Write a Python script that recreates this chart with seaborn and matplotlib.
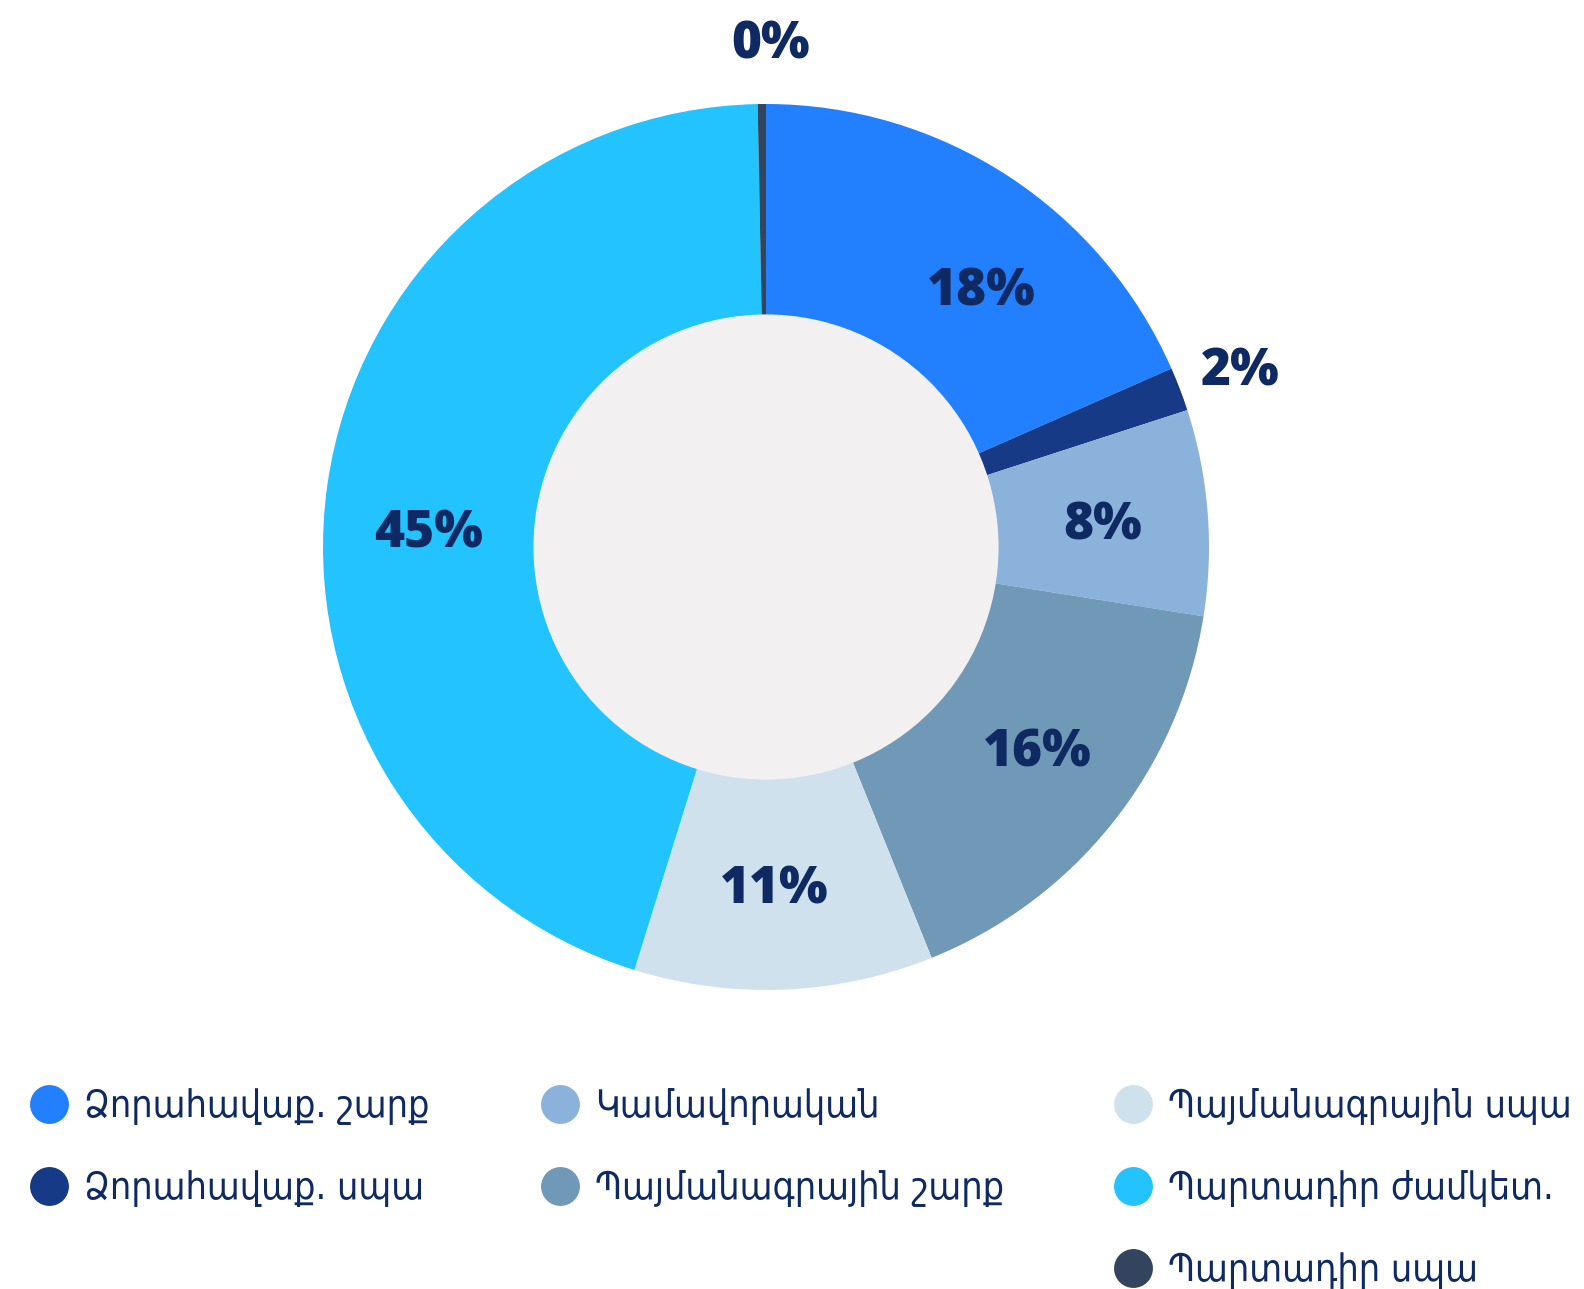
import matplotlib
matplotlib.use("Agg")
import matplotlib.pyplot as plt
import seaborn as sns
import numpy as np
from matplotlib.lines import Line2D
from matplotlib.patches import Circle

labels = ["Ձորահավաք. շարք", "Ձորահավաք. սպա", "Կամավորական",
          "Պայմանագրային շարք", "Պայմանագրային սպա", "Պարտադիր ժամկետ.",
          "Պարտադիր սպա"]
values = [18.4, 1.6, 7.5, 16.4, 10.9, 44.9, 0.3]
pct_text = ["18%", "2%", "8%", "16%", "11%", "45%", "0%"]
colors = ["#2280FF", "#173A86", "#8AB2DA", "#7099B8", "#D0E1EE", "#22C3FF", "#33445E"]
outside = [False, True, False, False, False, False, True]
# small nudges (degrees) of the label angle away from the slice middle
label_shift = [-6.5, 0, 0, 2, -1, 5, -1]

sns.set_theme(style="white")
plt.rcParams['font.family'] = ['DejaVu Sans']

navy = "#0F2A62"
fig = plt.figure(figsize=(15.84, 12.89), dpi=100)
ax = fig.add_axes([323/1584, 299/1289, 886/1584, 886/1289])

wedges, _ = ax.pie(values, colors=colors, startangle=90, counterclock=False,
                   radius=1.0, wedgeprops=dict(width=1.0, linewidth=0))
r_in = 0.525
ax.add_patch(Circle((0, 0), r_in, facecolor="#F2F0F1", edgecolor="none", zorder=3))

for w, t, out, sh in zip(wedges, pct_text, outside, label_shift):
    ang = np.deg2rad((w.theta1 + w.theta2) / 2 + sh)
    rr = 1.145 if out else (1 + r_in) / 2
    ax.text(rr * np.cos(ang), rr * np.sin(ang) - 0.012, t, ha="center", va="center",
            fontsize=37, fontweight="heavy", family=["Open Sans", "DejaVu Sans"],
            color=navy, zorder=4)

ax.set_xlim(-1, 1)
ax.set_ylim(-1, 1)
ax.set_aspect("equal")
ax.axis("off")

# legend in three columns: 2, 2, 3 items
cols = [[0, 1], [2, 3], [4, 5, 6]]
xs = [29/1584, 540/1584, 1113/1584]
for c, x0 in zip(cols, xs):
    handles = [Line2D([], [], marker="o", linestyle="none", markersize=28,
                      markerfacecolor=colors[i], markeredgewidth=0) for i in c]
    fig.legend(handles, [labels[i] for i in c], loc="upper left",
               bbox_to_anchor=(x0, 1 - 1088/1289), frameon=False,
               prop=dict(family="DejaVu Sans", stretch="condensed", size=27),
               labelcolor=navy, handletextpad=0.42,
               labelspacing=1.2, borderpad=0, borderaxespad=0, handlelength=1.05)

fig.savefig("out.png", dpi=100, facecolor="white")
